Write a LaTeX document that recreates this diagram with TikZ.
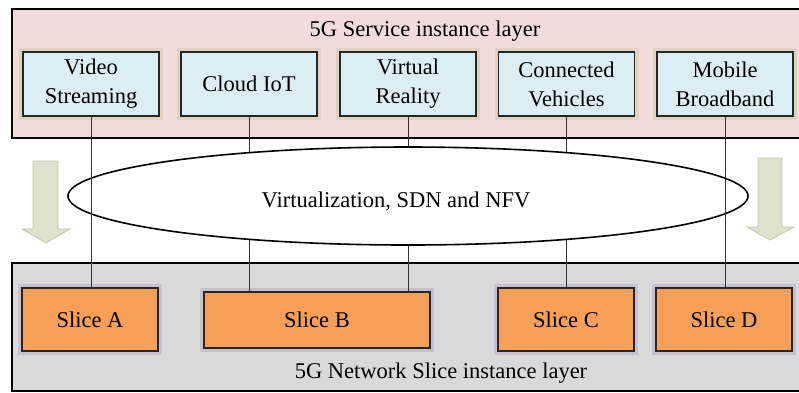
\documentclass[tikz,border=0pt]{standalone}
\usepackage{fontspec}
\setmainfont{Liberation Serif}
\usetikzlibrary{shapes.geometric}
\definecolor{layerpink}{HTML}{F2DCDB}
\definecolor{layergray}{HTML}{D9D9D9}
\definecolor{svcblue}{HTML}{DBEEF3}
\definecolor{sliceorange}{HTML}{F6A057}
\definecolor{svcglow}{HTML}{C4C393}
\definecolor{sliceglow}{HTML}{AE9CC4}
\definecolor{arrowfill}{HTML}{DDE2CC}
\definecolor{arrowedge}{HTML}{C2C7AC}
\tikzset{
  layerbox/.style={draw=black, line width=2pt, anchor=north west, inner sep=0pt},
  svcbox/.style={draw=black!85, line width=1.5pt, fill=svcblue, minimum width=136pt, minimum height=64pt, align=center, inner sep=0pt,
    preaction={draw=svcglow, line width=8pt, opacity=0.4}},
  slicebox/.style={draw=black!85, line width=1.5pt, fill=sliceorange, minimum height=63pt, align=center, inner sep=0pt,
    preaction={draw=sliceglow, line width=8pt, opacity=0.4}},
  link/.style={draw=black!80, line width=0.9pt},
  bigarrow/.style={fill=arrowfill, draw=arrowedge, line width=0.8pt},
  lbl/.style={inner sep=0pt, anchor=base}
}
\begin{document}
\begin{tikzpicture}[x=1pt, y=-1pt, font=\fontsize{22.5}{29}\selectfont]
\clip (0,0) rectangle (799,392);
\fill[white] (0,0) rectangle (799,392);
% layers
\node[layerbox, fill=layerpink, minimum width=840pt, minimum height=129pt] (toplayer) at (11,8) {};
\node[layerbox, fill=layergray, minimum width=840pt, minimum height=128pt] (botlayer) at (11,262) {};
\node[lbl] (toptitle) at (425,36) {5G Service instance layer};
\node[lbl] (bottitle) at (441,378) {5G Network Slice instance layer};
% service boxes
\node[svcbox] (vs) at (91,84) {Video\\Streaming};
\node[svcbox] (iot) at (249,84) {Cloud IoT};
\node[svcbox] (vr) at (408,84) {Virtual\\Reality};
\node[svcbox] (cv) at (566.5,84) {Connected\\Vehicles};
\node[svcbox] (mb) at (725,84) {Mobile\\Broadband};
% slices
\node[slicebox, minimum width=136pt] (sa) at (90,319.5) {Slice A};
\node[slicebox, minimum width=226pt, minimum height=56pt] (sb) at (317,320) {Slice B};
\node[slicebox, minimum width=136pt] (sc) at (566,319.5) {Slice C};
\node[slicebox, minimum width=136pt] (sd) at (724,319.5) {Slice D};
% middle connectors (hidden by ellipse)
\draw[link] (iot.south) -- (iot.south |- sb.north);
\draw[link] (vr.south) -- (vr.south |- sb.north);
\draw[link] (cv.south) -- (cv.south |- sc.north);
% ellipse
\node[ellipse, draw=black, line width=1.6pt, fill=white, minimum width=680pt, minimum height=98pt, inner sep=0pt] (virt) at (408,196) {};
\node[lbl] (virtlabel) at (396,207) {Virtualization, SDN and NFV};
% outer connectors
\draw[link] (vs.south) -- (vs.south |- sa.north);
\draw[link] (mb.south) -- (mb.south |- sd.north);
% big arrows
\draw[bigarrow] (33,161) -- (58,161) -- (58,229) -- (70,229) -- (46,243) -- (22,229) -- (33,229) -- cycle;
\draw[bigarrow] (758,158) -- (782,158) -- (782,227) -- (794,227) -- (770,240) -- (747,227) -- (758,227) -- cycle;
\end{tikzpicture}
\end{document}
